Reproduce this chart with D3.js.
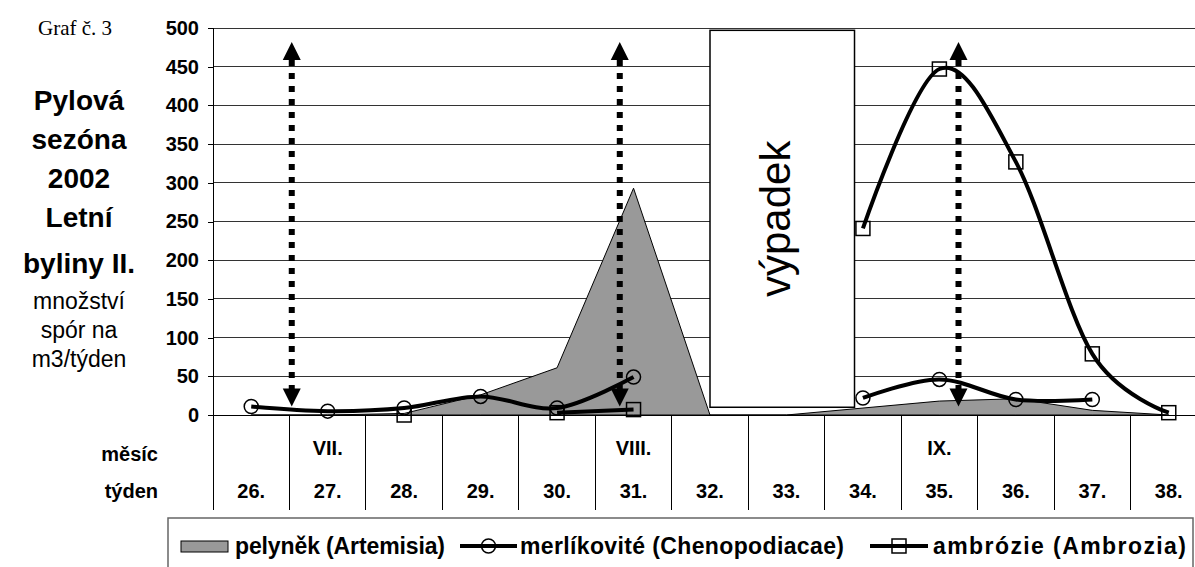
<!DOCTYPE html>
<html>
<head>
<meta charset="utf-8">
<script src="https://cdn.jsdelivr.net/npm/d3@7"></script>
<style>
  html, body { margin: 0; padding: 0; background: #fff; }
  svg { display: block; font-family: Arial, "Liberation Sans", sans-serif; }
</style>
</head>
<body>
<svg id="chart" width="1195" height="567"></svg>
<script>
// Weekly pollen counts, summer 2002
const weeks = [26, 27, 28, 29, 30, 31, 32, 33, 34, 35, 36, 37, 38];
const weekLabels = ["26.", "27.", "28.", "29.", "30.", "31.", "32.", "33.", "34.", "35.", "36.", "37.", "38."];
const monthWeeks = [27, 31, 35];
const monthLabels = ["VII.", "VIII.", "IX."];

const artemisia = [0, 0, 2, 26, 61, 293, 0, 0, 9, 18, 21, 6, 0];
const chenopodiaceae = [11, 5, 9, 24, 9, 49, null, null, 22, 46, 20, 20, null];
const ambrosia = [null, null, 0, null, 3, 7, null, null, 241, 447, 327, 79, 3];

const yTicks = [0, 50, 100, 150, 200, 250, 300, 350, 400, 450, 500];

// weeks without measurements ("výpadek")
const gapWeeks = [32, 33.89];
const gapRange = [10, 497];

// season markers (double-headed dotted arrows)
const arrowWeeks = [26.53, 30.82, 35.25];
const arrowRange = [11, 482];

const seriesNames = ["pelyněk (Artemisia)", "merlíkovité (Chenopodiacae)", "ambrózie (Ambrozia)"];
const titleLines = ["Pylová", "sezóna", "2002", "Letní", "byliny II."];
const unitLines = ["množství", "spór na", "m3/týden"];

const svg = d3.select("#chart");

const plotLeft = 213, plotRight = 1207, plotTop = 28, plotBottom = 415, tableBottom = 510;

const y = d3.scaleLinear().domain([0, 500]).range([plotBottom, plotTop]);
const xBand = d3.scaleBand().domain(weeks).range([plotLeft, plotRight]).padding(0);
const x = d3.scaleLinear().domain([weeks[0] - 0.5, weeks[weeks.length - 1] + 0.5]).range([plotLeft, plotRight]);

// horizontal gridlines
svg.append("g").selectAll("line").data(yTicks).join("line")
  .attr("x1", plotLeft).attr("x2", plotRight)
  .attr("y1", d => y(d)).attr("y2", d => y(d))
  .attr("stroke", d => d === 0 ? "#000" : "#333").attr("stroke-width", 1)
  .attr("shape-rendering", "crispEdges");

// y axis
const yAxis = d3.axisLeft(y).tickValues(yTicks).tickSize(5).tickPadding(9).tickFormat(d3.format("d"));
const yg = svg.append("g").attr("transform", `translate(${plotLeft},0)`).call(yAxis);
yg.select(".domain").remove();
yg.selectAll(".tick line").attr("stroke", "#000").attr("shape-rendering", "crispEdges");
yg.selectAll(".tick text").attr("font-size", 20).attr("font-weight", "bold")
  .attr("font-family", "Arial, 'Liberation Sans', sans-serif").attr("fill", "#000");
svg.append("line").attr("x1", plotLeft).attr("x2", plotLeft).attr("y1", plotTop).attr("y2", tableBottom)
  .attr("stroke", "#000").attr("stroke-width", 1).attr("shape-rendering", "crispEdges");

// category table below the plot
svg.append("g").selectAll("line").data(weeks.slice(1)).join("line")
  .attr("x1", d => xBand(d)).attr("x2", d => xBand(d))
  .attr("y1", plotBottom).attr("y2", tableBottom)
  .attr("stroke", "#000").attr("stroke-width", 1).attr("shape-rendering", "crispEdges");

svg.append("g").selectAll("text").data(weeks).join("text")
  .attr("x", d => xBand(d) + xBand.bandwidth() / 2).attr("y", 498)
  .attr("text-anchor", "middle").attr("font-size", 20).attr("font-weight", "bold")
  .text((d, i) => weekLabels[i]);

svg.append("g").selectAll("text").data(monthWeeks).join("text")
  .attr("x", d => xBand(d) + xBand.bandwidth() / 2).attr("y", 455)
  .attr("text-anchor", "middle").attr("font-size", 20).attr("font-weight", "bold")
  .text((d, i) => monthLabels[i]);

svg.append("text").attr("x", 158).attr("y", 461).attr("text-anchor", "end")
  .attr("font-size", 20).attr("font-weight", "bold").text("měsíc");
svg.append("text").attr("x", 158).attr("y", 498).attr("text-anchor", "end")
  .attr("font-size", 20).attr("font-weight", "bold").text("týden");

// Artemisia area
const area = d3.area()
  .x((d, i) => x(weeks[i]))
  .y0(y(0))
  .y1(d => y(d));
svg.append("path").datum(artemisia).attr("d", area)
  .attr("fill", "#999").attr("stroke", "#000").attr("stroke-width", 1);

// gap box
svg.append("rect")
  .attr("x", x(gapWeeks[0])).attr("width", x(gapWeeks[1]) - x(gapWeeks[0]))
  .attr("y", y(gapRange[1])).attr("height", y(gapRange[0]) - y(gapRange[1]))
  .attr("fill", "#fff").attr("stroke", "#000").attr("stroke-width", 1.5);
svg.append("text")
  .attr("transform", `translate(${(x(gapWeeks[0]) + x(gapWeeks[1])) / 2 + 8},${(y(gapRange[0]) + y(gapRange[1])) / 2}) rotate(-90)`)
  .attr("text-anchor", "middle").attr("font-size", 42).attr("fill", "#000")
  .text("výpadek");

// smoothed lines with gaps
const line = d3.line()
  .defined(d => d.v != null)
  .x(d => x(d.w))
  .y(d => y(d.v))
  .curve(d3.curveCardinal.tension(0));

function series(values) { return values.map((v, i) => ({ w: weeks[i], v })); }

svg.append("path").datum(series(chenopodiaceae)).attr("d", line)
  .attr("fill", "none").attr("stroke", "#000").attr("stroke-width", 4).attr("stroke-linejoin", "round");
svg.append("path").datum(series(ambrosia)).attr("d", line)
  .attr("fill", "none").attr("stroke", "#000").attr("stroke-width", 4).attr("stroke-linejoin", "round");

svg.append("g").selectAll("circle").data(series(chenopodiaceae).filter(d => d.v != null)).join("circle")
  .attr("cx", d => x(d.w)).attr("cy", d => y(d.v)).attr("r", 7)
  .attr("fill", "none").attr("stroke", "#000").attr("stroke-width", 1.5);
svg.append("g").selectAll("rect").data(series(ambrosia).filter(d => d.v != null)).join("rect")
  .attr("x", d => x(d.w) - 7).attr("y", d => y(d.v) - 7).attr("width", 14).attr("height", 14)
  .attr("fill", "none").attr("stroke", "#000").attr("stroke-width", 1.5);

// dotted double-headed arrows
const arrows = svg.append("g");
arrowWeeks.forEach(w => {
  const ax = x(w), yTop = y(arrowRange[1]), yBot = y(arrowRange[0]);
  arrows.append("line").attr("x1", ax).attr("x2", ax).attr("y1", yTop + 18).attr("y2", yBot - 16)
    .attr("stroke", "#000").attr("stroke-width", 6).attr("stroke-dasharray", "6,7");
  arrows.append("path").attr("d", `M${ax},${yTop} L${ax - 9},${yTop + 18} L${ax + 9},${yTop + 18} Z`).attr("fill", "#000");
  arrows.append("path").attr("d", `M${ax},${yBot} L${ax - 9},${yBot - 18} L${ax + 9},${yBot - 18} Z`).attr("fill", "#000");
});

// left-hand titles
svg.append("text").attr("x", 75).attr("y", 35).attr("text-anchor", "middle")
  .style("font-family", "'Liberation Serif', 'DejaVu Serif', serif").attr("font-size", 21).text("Graf č. 3");
const titleY = [110, 149, 188, 227, 273];
svg.append("g").selectAll("text").data(titleLines).join("text")
  .attr("x", 79).attr("y", (d, i) => titleY[i]).attr("text-anchor", "middle")
  .attr("font-size", 28).attr("font-weight", "bold").text(d => d);
const unitY = [309, 338, 367];
svg.append("g").selectAll("text").data(unitLines).join("text")
  .attr("x", 79).attr("y", (d, i) => unitY[i]).attr("text-anchor", "middle")
  .attr("font-size", 23).text(d => d);

// legend
const lg = svg.append("g");
lg.append("rect").attr("x", 168).attr("y", 518).attr("width", 1025).attr("height", 60)
  .attr("fill", "#fff").attr("stroke", "#666").attr("stroke-width", 1.5);
lg.append("rect").attr("x", 181).attr("y", 541).attr("width", 47).attr("height", 11)
  .attr("fill", "#999").attr("stroke", "#000").attr("stroke-width", 1);

const legendLine = (x0, x1, marker) => {
  lg.append("line").attr("x1", x0).attr("x2", x1).attr("y1", 546).attr("y2", 546)
    .attr("stroke", "#000").attr("stroke-width", 4);
  const cx = (x0 + x1) / 2;
  if (marker === "circle") {
    lg.append("circle").attr("cx", cx).attr("cy", 546).attr("r", 7).attr("fill", "none").attr("stroke", "#000").attr("stroke-width", 1.5);
  } else {
    lg.append("rect").attr("x", cx - 7).attr("y", 539).attr("width", 14).attr("height", 14).attr("fill", "none").attr("stroke", "#000").attr("stroke-width", 1.5);
  }
};
const legendText = (x0, width, label) => {
  lg.append("text").attr("x", x0).attr("y", 554).attr("font-size", 23).attr("font-weight", "bold")
    .attr("textLength", width).attr("lengthAdjust", "spacing").text(label);
};
legendText(235, 210, seriesNames[0]);
legendLine(460, 517, "circle");
legendText(520, 324, seriesNames[1]);
legendLine(870, 928, "square");
legendText(933, 253, seriesNames[2]);
</script>
</body>
</html>
